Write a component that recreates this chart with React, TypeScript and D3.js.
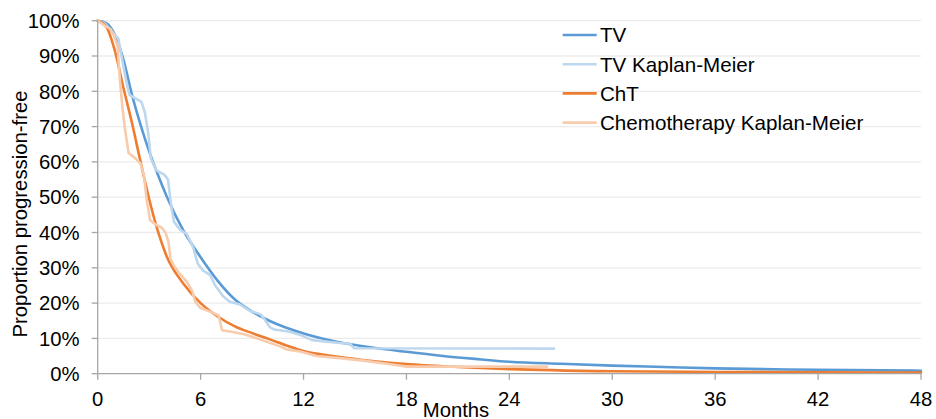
import React from "react";
import * as d3 from "d3";

type Pt = [number, number];

// Modelled progression-free proportion (months, %)
const tvModel: Pt[] = [
  [0, 100], [0.5, 99.3], [1, 96], [1.5, 89], [2, 79], [2.5, 70.5], [3, 63], [3.5, 56.5],
  [4, 50.5], [5, 40.5], [6, 33], [7, 26.3], [8, 21], [9, 17.6], [10, 15], [11, 13],
  [12, 11.4], [14, 9], [16, 7.4], [18, 6.2], [20, 5.1], [22, 4.2], [24, 3.4], [27, 2.8],
  [30, 2.3], [33, 1.9], [36, 1.5], [42, 1.1], [48, 0.85],
];

const chtModel: Pt[] = [
  [0, 100], [0.5, 98.3], [1, 91.5], [1.5, 81], [2, 71], [2.5, 60], [3, 49.5], [3.5, 40.5],
  [4, 33.5], [5, 25.5], [6, 20], [7, 16.2], [8, 13.4], [9, 11.5], [10, 9.8], [11, 8],
  [12, 6.4], [14, 4.8], [16, 3.6], [18, 2.7], [21, 1.9], [24, 1.3], [30, 0.7], [36, 0.5],
  [42, 0.38], [48, 0.3],
];

// Kaplan-Meier estimates (months, %)
const tvKM: Pt[] = [
  [0, 100], [0.4, 99.3], [1.0, 96], [1.2, 95], [1.5, 87], [1.7, 82], [1.85, 79], [2.2, 78],
  [2.55, 77], [2.75, 74], [2.95, 68], [3.1, 61], [3.4, 57.7], [3.9, 56.3], [4.1, 55],
  [4.3, 47], [4.45, 43], [4.8, 40.8], [5.2, 39.5], [5.55, 36], [5.85, 31], [6.15, 29.2],
  [6.55, 28], [6.85, 25], [7.3, 22], [7.7, 20.4], [8.3, 19.6], [8.8, 18], [9.5, 16.8],
  [9.75, 15.2], [10.05, 13.1], [10.3, 12.5], [11.2, 11.9], [11.9, 10.8], [12.5, 9.5],
  [14.1, 8.7], [14.7, 8.5], [14.95, 7.2], [26.6, 7.1],
];

const chemoKM: Pt[] = [
  [0, 100], [0.5, 98.3], [0.75, 97.6], [0.95, 95.7], [1.15, 93], [1.3, 83], [1.45, 75],
  [1.6, 69], [1.8, 62.5], [2.2, 61], [2.5, 59.5], [2.7, 56], [2.85, 49.5], [3.05, 43.5],
  [3.4, 42.2], [3.75, 41.3], [3.95, 40], [4.12, 37.5], [4.25, 32.5], [4.45, 30.5],
  [4.8, 28.2], [5.2, 26], [5.5, 23.5], [5.7, 20.3], [6.0, 18.6], [6.7, 17.3], [7.05, 16.5],
  [7.25, 12.3], [7.9, 11.8], [8.6, 11.1], [9.7, 9.3], [10.7, 7.6], [11.0, 6.9], [11.8, 6.3],
  [12.4, 5.5], [12.75, 5.0], [14.1, 4.4], [15.5, 3.7], [17.6, 2.3], [18, 2.0], [26.2, 2.0],
];

const xTicks = [0, 6, 12, 18, 24, 30, 36, 42, 48];
const yTicks = [0, 10, 20, 30, 40, 50, 60, 70, 80, 90, 100];

const seriesNames = ["TV", "TV Kaplan-Meier", "ChT", "Chemotherapy Kaplan-Meier"];
const seriesColors = ["#5b9bd5", "#bdd7ee", "#ed7d31", "#f8cbad"];
const seriesData = [tvModel, tvKM, chtModel, chemoKM];
const seriesSmooth = [true, false, true, false];

const W = 936;
const H = 419;
const FONT = "'Liberation Sans', Arial, sans-serif";
const AXIS_FONT = 20.3;
const LEGEND_FONT = 20.6;

export default function App() {
  const x = d3.scaleLinear().domain([0, 48]).range([97.7, 921]);
  const y = d3.scaleLinear().domain([0, 100]).range([373.7, 20.7]);

  const lineSmooth = d3
    .line<Pt>()
    .x((d) => x(d[0]))
    .y((d) => y(d[1]))
    .curve(d3.curveMonotoneX);
  const lineStraight = d3
    .line<Pt>()
    .x((d) => x(d[0]))
    .y((d) => y(d[1]));

  const [x0, x1] = x.range();
  const axisColor = "#a6a6a6";
  const legendX = 562.7;
  const legendY0 = 35;
  const legendStep = 29.2;

  return (
    <svg
      width={W}
      height={H}
      style={{ position: "absolute", left: 0, top: 0, background: "#fff" }}
      fontFamily={FONT}
    >
      {/* horizontal gridlines */}
      {yTicks.slice(1).map((t) => (
        <line key={`g${t}`} x1={x0} x2={x1} y1={y(t)} y2={y(t)} stroke="#ececec" strokeWidth={1.3} />
      ))}

      {/* series */}
      {seriesData.map((data, i) => (
        <path
          key={seriesNames[i]}
          d={(seriesSmooth[i] ? lineSmooth : lineStraight)(data) || ""}
          fill="none"
          stroke={seriesColors[i]}
          strokeWidth={2.6}
          strokeLinejoin="round"
          strokeLinecap="round"
        />
      ))}

      {/* axes */}
      <line x1={x0} x2={x1} y1={y(0)} y2={y(0)} stroke={axisColor} strokeWidth={1.3} />
      <line x1={x0} x2={x0} y1={y(0)} y2={y(100)} stroke={axisColor} strokeWidth={1.3} />
      {xTicks.map((t) => (
        <g key={`x${t}`}>
          <line x1={x(t)} x2={x(t)} y1={y(0)} y2={y(0) + 6} stroke={axisColor} strokeWidth={1.3} />
          <text x={x(t)} y={405.5} textAnchor="middle" fontSize={AXIS_FONT} fill="#000">
            {t}
          </text>
        </g>
      ))}
      {yTicks.map((t) => (
        <g key={`y${t}`}>
          <line x1={x0 - 6} x2={x0} y1={y(t)} y2={y(t)} stroke={axisColor} strokeWidth={1.3} />
          <text x={79.5} y={y(t) + 7.2} textAnchor="end" fontSize={AXIS_FONT} fill="#000">
            {`${t}%`}
          </text>
        </g>
      ))}

      {/* axis titles */}
      <text x={456} y={416.5} textAnchor="middle" fontSize={AXIS_FONT} fill="#000">
        Months
      </text>
      <text
        transform={`translate(27, 214) rotate(-90)`}
        textAnchor="middle"
        fontSize={AXIS_FONT}
        fill="#000"
      >
        Proportion progression-free
      </text>

      {/* legend */}
      {seriesNames.map((name, i) => {
        const ly = legendY0 + i * legendStep;
        return (
          <g key={`l${name}`}>
            <line
              x1={legendX}
              x2={legendX + 34}
              y1={ly}
              y2={ly}
              stroke={seriesColors[i]}
              strokeWidth={2.6}
            />
            <text x={600} y={ly + 7.3} fontSize={LEGEND_FONT} fill="#000">
              {name}
            </text>
          </g>
        );
      })}
    </svg>
  );
}
